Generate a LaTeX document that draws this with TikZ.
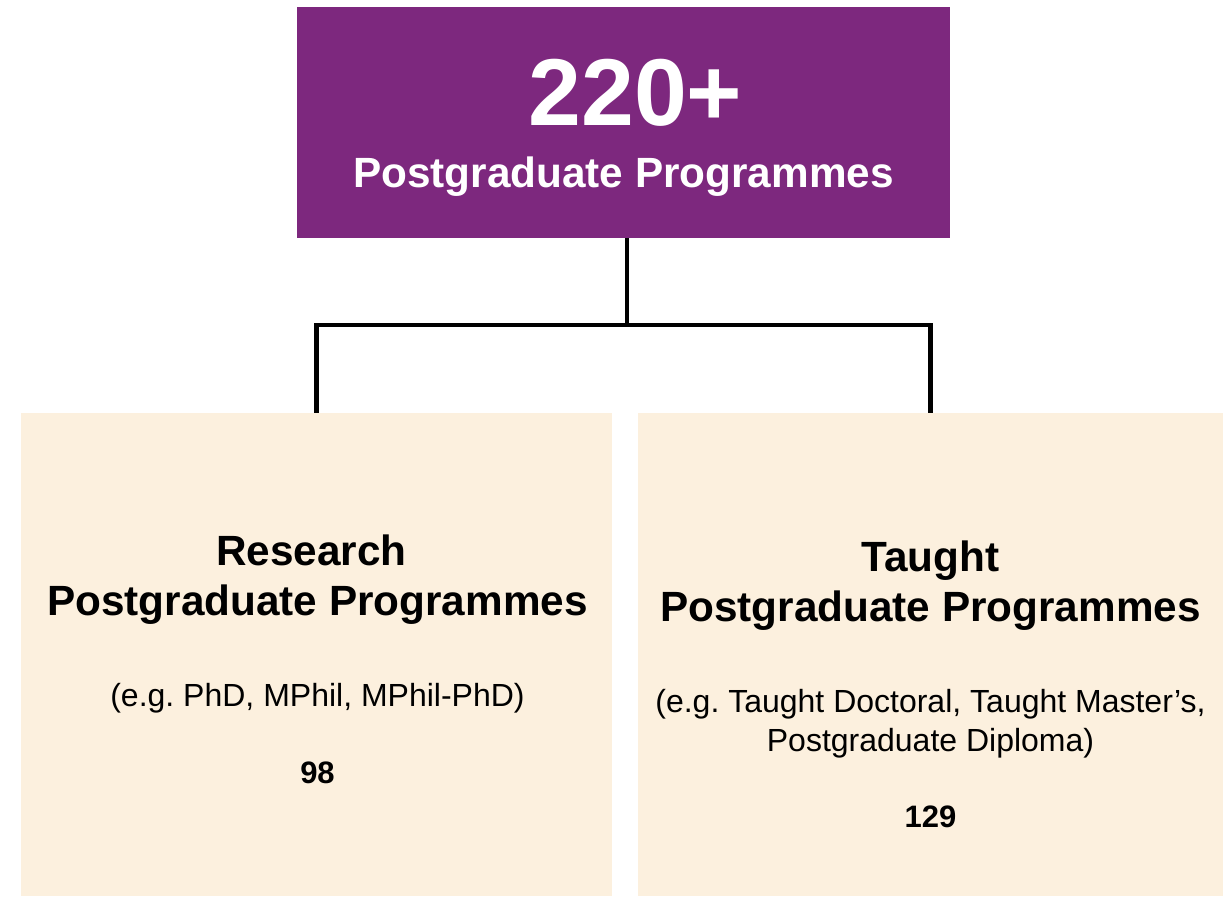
\documentclass[tikz,border=0pt]{standalone}
\usepackage{fontspec}
\setmainfont{Liberation Sans}
\definecolor{pgpurple}{HTML}{7D287E}
\definecolor{pgbeige}{HTML}{FCF0DE}
\frenchspacing

\begin{document}
\begin{tikzpicture}[grow = down, level distance = 532pt, sibling distance = 614pt,
    box/.style = {inner sep = 0pt, minimum height = 483pt, fill = pgbeige},
    edge from parent/.style = {draw, line width = 4.5pt},
    edge from parent path = {([xshift = 3.5pt]\tikzparentnode.south) -- ++(0,-87pt) -| (\tikzchildnode.north)},
    big/.style = {font = \bfseries\fontsize{95}{95}\selectfont, anchor = base, inner sep = 0pt},
    heading/.style = {font = \bfseries\fontsize{42.3}{50}\selectfont, anchor = base, inner sep = 0pt},
    note/.style = {font = \fontsize{32}{39}\selectfont, anchor = base, inner sep = 0pt},
    count/.style = {font = \bfseries\fontsize{31}{31}\selectfont, anchor = base, inner sep = 0pt}]
    \useasboundingbox (-623.5pt,122.5pt) rectangle (606.5pt,-774.5pt);
    \node[fill = pgpurple, minimum width = 653pt, minimum height = 231pt, inner sep = 0pt] (total) {}
        child { node[box, minimum width = 591pt] (research) {} }
        child { node[box, minimum width = 585pt] (taught) {} };
    % top box
    \node[big, text = white] (totalnum) at ([xshift = 12pt, yshift = -2.5pt]total.center) {220+};
    \node[heading, text = white] (totaltext) at ([yshift = -64.5pt]total.center) {Postgraduate Programmes};
    % research
    \node[heading] (restitle) at ([xshift = -5pt, yshift = -153pt]research.north) {Research};
    \node[heading] (restitlb) at ([xshift = 1pt, yshift = -203pt]research.north) {Postgraduate Programmes};
    \node[note] (resnote) at ([xshift = 1pt, yshift = -294pt]research.north) {(e.g. PhD, MPhil, MPhil-PhD)};
    \node[count] (rescount) at ([xshift = 1pt, yshift = -371pt]research.north) {98};
    % taught
    \node[heading] (tautitle) at ([yshift = -159pt]taught.north) {Taught};
    \node[heading] (tautitlb) at ([yshift = -209pt]taught.north) {Postgraduate Programmes};
    \node[note] (taunote) at ([yshift = -300pt]taught.north) {(e.g. Taught Doctoral, Taught Master’s,};
    \node[note] (taunotb) at ([yshift = -339pt]taught.north) {Postgraduate Diploma)};
    \node[count] (taucount) at ([yshift = -415pt]taught.north) {129};
\end{tikzpicture}
\end{document}
